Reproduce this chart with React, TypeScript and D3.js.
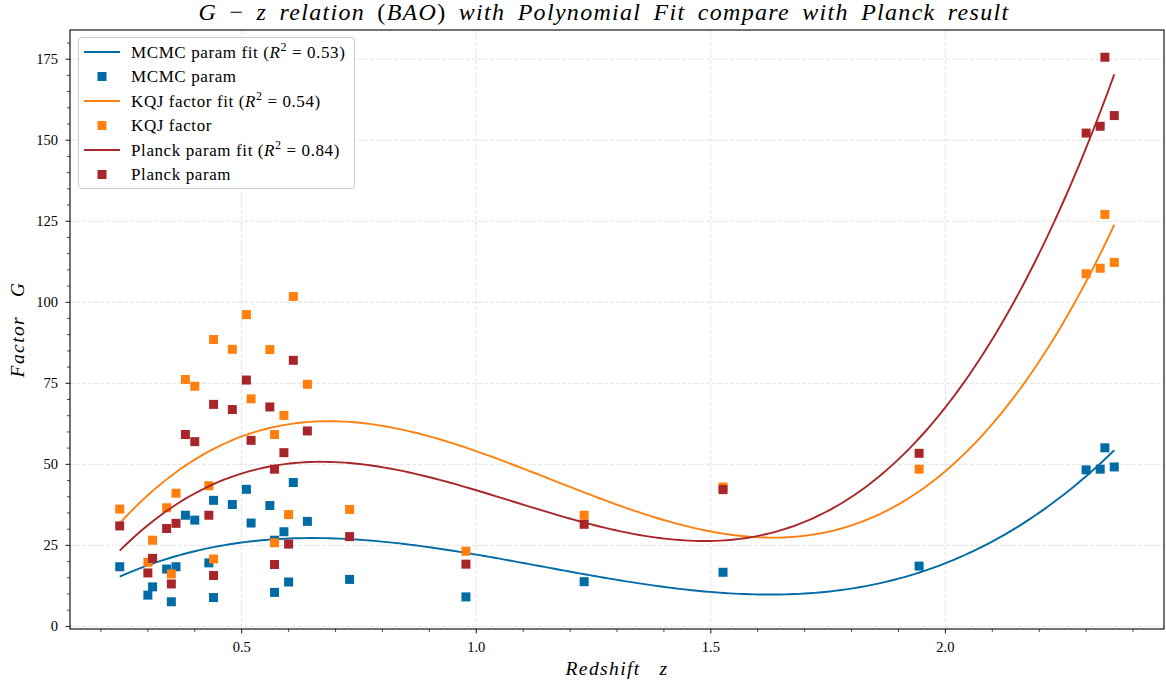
import React from "react";
import * as d3 from "d3";

// Redshift of each BAO measurement
const redshift = [
  0.24, 0.3, 0.31, 0.34, 0.35, 0.36, 0.38, 0.4, 0.43, 0.44, 0.44, 0.48, 0.51, 0.52, 0.56,
  0.57, 0.57, 0.59, 0.6, 0.61, 0.64, 0.73, 0.978, 1.23, 1.526, 1.944, 2.3, 2.33, 2.34, 2.36,
];

// G factor derived from the MCMC parameters
const mcmcParam = [
  18.4, 9.65, 12.2, 17.7, 7.6, 18.4, 34.3, 32.8, 19.6, 38.9, 8.9, 37.6, 42.3, 31.9, 37.3,
  26.6, 10.5, 29.2, 13.7, 44.4, 32.4, 14.5, 9.1, 13.8, 16.7, 18.6, 48.3, 48.5, 55.1, 49.2,
];

// G factor from the KQJ factor
const kqjFactor = [
  36.2, 19.8, 26.6, 36.6, 16.2, 41.1, 76.2, 74.1, 43.4, 88.5, 20.8, 85.5, 96.2, 70.2, 85.4,
  59.2, 25.8, 65.1, 34.5, 101.8, 74.7, 36.1, 23.2, 34.3, 43.0, 48.5, 108.8, 110.5, 127.1, 112.3,
];

// G factor from the Planck parameters
const planckParam = [
  31.0, 16.5, 21.0, 30.2, 13.1, 31.8, 59.2, 57.0, 34.3, 68.5, 15.7, 66.9, 76.0, 57.4, 67.7,
  48.5, 19.1, 53.6, 25.4, 82.1, 60.3, 27.7, 19.2, 31.5, 42.2, 53.4, 152.2, 154.3, 175.6, 157.6,
];

const seriesNames = ["MCMC param", "KQJ factor", "Planck param"];
const seriesR2 = ["0.53", "0.54", "0.84"];
const seriesColors = ["#006ba4", "#ff800e", "#a8262a"];

const xMajorTicks = [0.5, 1.0, 1.5, 2.0];
const yMajorTicks = [0, 25, 50, 75, 100, 125, 150, 175];

const W = 1166;
const H = 684;
const M = { left: 70, right: 1164, top: 30, bottom: 629 };
const FONT = "'Liberation Serif', 'DejaVu Serif', serif";
const FIT_DEGREE = 3;

// Least-squares polynomial fit (normal equations, centred abscissa)
function polyFit(xs: number[], ys: number[], deg: number) {
  const mx = d3.mean(xs) as number;
  const n = deg + 1;
  const A: number[][] = Array.from({ length: n }, () => new Array(n + 1).fill(0));
  xs.forEach((x, k) => {
    const t = x - mx;
    const pw = Array.from({ length: 2 * n }, (_, i) => Math.pow(t, i));
    for (let i = 0; i < n; i++) {
      for (let j = 0; j < n; j++) A[i][j] += pw[i + j];
      A[i][n] += pw[i] * ys[k];
    }
  });
  for (let c = 0; c < n; c++) {
    let p = c;
    for (let r = c + 1; r < n; r++) if (Math.abs(A[r][c]) > Math.abs(A[p][c])) p = r;
    [A[c], A[p]] = [A[p], A[c]];
    for (let r = 0; r < n; r++) {
      if (r === c) continue;
      const f = A[r][c] / A[c][c];
      for (let j = c; j <= n; j++) A[r][j] -= f * A[c][j];
    }
  }
  const coef = A.map((row, i) => row[n] / row[i]);
  return (x: number) => coef.reduce((s, c, i) => s + c * Math.pow(x - mx, i), 0);
}

export default function App() {
  const series = [mcmcParam, kqjFactor, planckParam];
  const zMin = d3.min(redshift) as number;
  const zMax = d3.max(redshift) as number;
  const zPad = (zMax - zMin) * 0.05;
  const allVals = series.flat();
  const vMin = d3.min(allVals) as number;
  const vMax = d3.max(allVals) as number;
  const vPad = (vMax - vMin) * 0.05;

  const x = d3.scaleLinear().domain([zMin - zPad, zMax + zPad]).range([M.left, M.right]);
  const y = d3.scaleLinear().domain([vMin - vPad, vMax + vPad]).range([M.bottom, M.top]);

  const xMinor = d3.range(2, 25).map((d) => d / 10).filter((d) => !xMajorTicks.some((m) => Math.abs(m - d) < 1e-9));
  const yMinor = d3.range(0, 185, 5).filter((d) => d % 25 !== 0 && y(d) >= M.top);

  const grid = d3.range(200).map((i) => zMin + ((zMax - zMin) * i) / 199);
  const line = d3.line<[number, number]>().x((d) => x(d[0])).y((d) => y(d[1]));
  const fits = series.map((vals) => {
    const f = polyFit(redshift, vals, FIT_DEGREE);
    return line(grid.map((z) => [z, f(z)] as [number, number])) as string;
  });

  const mk = 9;
  const legendRows = [52, 76.5, 101, 125.5, 150, 174.5];

  return (
    <svg width={W} height={H} style={{ position: "absolute", left: 0, top: 0, background: "#fff" }} fontFamily={FONT}>
      <defs>
        <clipPath id="plotArea">
          <rect x={M.left} y={M.top} width={M.right - M.left} height={M.bottom - M.top} />
        </clipPath>
      </defs>
      <rect width={W} height={H} fill="#fff" />

      {/* grid */}
      <g stroke="#e2e2e2" strokeWidth={1} strokeDasharray="4,2">
        {xMajorTicks.map((t) => (
          <line key={"gx" + t} x1={x(t)} x2={x(t)} y1={M.top} y2={M.bottom} />
        ))}
        {yMajorTicks.map((t) => (
          <line key={"gy" + t} x1={M.left} x2={M.right} y1={y(t)} y2={y(t)} />
        ))}
      </g>

      {/* fits and measurements */}
      <g clipPath="url(#plotArea)">
        {series.map((vals, si) => (
          <g key={"s" + si}>
            <path d={fits[si]} fill="none" stroke={seriesColors[si]} strokeWidth={1.9} />
            {vals.map((v, i) => (
              <rect
                key={i}
                x={x(redshift[i]) - mk / 2}
                y={y(v) - mk / 2}
                width={mk}
                height={mk}
                fill={seriesColors[si]}
              />
            ))}
          </g>
        ))}
      </g>

      {/* frame */}
      <rect x={M.left} y={M.top} width={M.right - M.left} height={M.bottom - M.top} fill="none" stroke="#000" strokeWidth={1.1} />

      {/* ticks */}
      <g stroke="#000" strokeWidth={0.9}>
        {xMajorTicks.map((t) => (
          <line key={"xt" + t} x1={x(t)} x2={x(t)} y1={M.bottom} y2={M.bottom + 4.5} />
        ))}
        {xMinor.map((t) => (
          <line key={"xm" + t} x1={x(t)} x2={x(t)} y1={M.bottom} y2={M.bottom + 3} strokeWidth={0.7} />
        ))}
        {yMajorTicks.map((t) => (
          <line key={"yt" + t} x1={M.left - 4.5} x2={M.left} y1={y(t)} y2={y(t)} />
        ))}
        {yMinor.map((t) => (
          <line key={"ym" + t} x1={M.left - 3} x2={M.left} y1={y(t)} y2={y(t)} strokeWidth={0.7} />
        ))}
      </g>
      <g fontSize={14.5} fill="#000">
        {xMajorTicks.map((t) => (
          <text key={"xl" + t} x={x(t)} y={M.bottom + 23} textAnchor="middle">
            {t.toFixed(1)}
          </text>
        ))}
        {yMajorTicks.map((t) => (
          <text key={"yl" + t} x={M.left - 12} y={y(t) + 5} textAnchor="end">
            {t}
          </text>
        ))}
      </g>

      {/* axis labels */}
      <text
        x={(M.left + M.right) / 2}
        y={675}
        textAnchor="middle"
        fontSize={19.5}
        fontStyle="italic"
        letterSpacing={1.4}
      >
        Redshift{"\u00a0\u00a0\u00a0"}z
      </text>
      <text
        transform={`translate(24, ${(M.top + M.bottom) / 2}) rotate(-90)`}
        textAnchor="middle"
        fontSize={19.5}
        fontStyle="italic"
        letterSpacing={1.4}
      >
        Factor{"\u00a0\u00a0\u00a0"}G
      </text>

      {/* title */}
      <text
        x={604}
        y={20}
        textAnchor="middle"
        fontSize={24}
        fontStyle="italic"
        letterSpacing={1.3}
        wordSpacing={5}
      >
        G<tspan fontStyle="normal">{"\u00a0\u2212\u00a0"}</tspan>z relation <tspan fontStyle="normal">(</tspan>BAO
        <tspan fontStyle="normal">)</tspan> with Polynomial Fit compare with Planck result
      </text>

      {/* legend */}
      <rect x={78.5} y={37.5} width={276} height={151} rx={3} fill="#fff" fillOpacity={0.85} stroke="#cccccc" />
      {seriesNames.map((name, si) => {
        const yl = legendRows[si * 2];
        const ym = legendRows[si * 2 + 1];
        return (
          <g key={"lg" + si} fontSize={17} letterSpacing={0.6}>
            <line x1={84} x2={120} y1={yl} y2={yl} stroke={seriesColors[si]} strokeWidth={1.9} />
            <text x={131} y={yl + 5.5}>
              {name} fit (<tspan fontStyle="italic">R</tspan>
              <tspan fontSize={12} dy={-7}>2</tspan>
              <tspan dy={7}>{" = " + seriesR2[si] + ")"}</tspan>
            </text>
            <rect x={102 - mk / 2} y={ym - mk / 2} width={mk} height={mk} fill={seriesColors[si]} />
            <text x={131} y={ym + 5.5}>
              {name}
            </text>
          </g>
        );
      })}
    </svg>
  );
}
